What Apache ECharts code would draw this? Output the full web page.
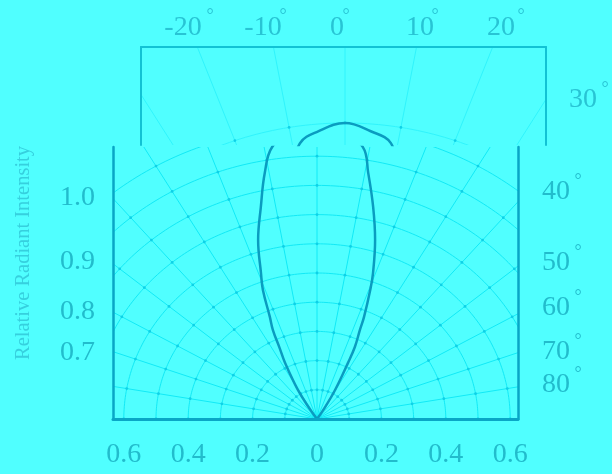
<!DOCTYPE html>
<html>
<head>
<meta charset="utf-8">
<script src="https://cdn.jsdelivr.net/npm/echarts@6/dist/echarts.min.js"></script>
<style>
  html, body { margin:0; padding:0; background:#50ffff; }
  #chart { width:612px; height:474px; }
</style>
</head>
<body>
<div id="chart"></div>
<script>
// ---- data ----
const ringValues = [0.1, 0.2, 0.3, 0.4, 0.5, 0.6, 0.7, 0.8, 0.9, 1.0];
const spokeAngles = [-90, -80, -70, -60, -50, -40, -30, -20, -10, 0, 10, 20, 30, 40, 50, 60, 70, 80, 90];
const lobeAngles = [-35, -33, -30.8, -27.3, -25.5, -24.2, -22.7, -20.8, -19.2, -16.6, -13.5, -10.9, -8.5, -4.9, 0,
                    4.7, 8.7, 10.7, 13.5, 16.4, 19.2, 20.5, 22.7, 23.6, 25.5, 26.6, 29.5, 32, 35];
const lobeIntensity = [0, 0.04, 0.115, 0.216, 0.27, 0.334, 0.38, 0.473, 0.529, 0.640, 0.747, 0.858, 0.942, 0.975, 1.0,
                       0.975, 0.942, 0.857, 0.747, 0.639, 0.529, 0.472, 0.378, 0.333, 0.273, 0.215, 0.114, 0.04, 0];
const xTickValues = [-0.6, -0.4, -0.2, 0, 0.2, 0.4, 0.6];
const intensityLabels = ['1.0', '0.9', '0.8', '0.7'];
const topAngleLabels = ['-20', '-10', '0', '10', '20'];
const sideAngleLabels = ['30', '40', '50', '60', '70', '80'];

// ---- styles / layout ----
const FONT = '"Liberation Serif", "DejaVu Serif", serif';
const C_BG = '#50ffff';
const C_GRID = '#12eaf6';
const C_GRID_UP = '#30f4fc';
const C_DOT = '#10d0e6';
const C_LOBE = '#0a9cc0';
const C_BOX = '#0aa6c6';
const C_BOX_UP = '#12c2d4';
const C_TEXT = '#22bccc';
const C_TEXT_UP = '#28c4d4';
const C_TITLE = '#36d0de';

const rad = d => d * Math.PI / 180;
const lobePoints = lobeAngles.map((a, i) => [lobeIntensity[i] * Math.sin(rad(a)), lobeIntensity[i] * Math.cos(rad(a))]);

function spokeRender(color) {
  return function (params, api) {
    const t = rad(api.value(0));
    const p0 = api.coord([0, 0]);
    const p1 = api.coord([2 * Math.sin(t), 2 * Math.cos(t)]);
    return { type: 'line', shape: { x1: p0[0], y1: p0[1], x2: p1[0], y2: p1[1] },
             style: { stroke: color, lineWidth: 1 } };
  };
}
function ringRender(color) {
  return function (params, api) {
    const r = api.value(0);
    const pts = [];
    for (let a = -90; a <= 90; a += 1) {
      pts.push(api.coord([r * Math.sin(rad(a)), r * Math.cos(rad(a))]));
    }
    const children = [{ type: 'polyline', shape: { points: pts }, style: { stroke: color, fill: null, lineWidth: 1 } }];
    spokeAngles.forEach(a => {
      const p = api.coord([r * Math.sin(rad(a)), r * Math.cos(rad(a))]);
      children.push({ type: 'circle', shape: { cx: p[0], cy: p[1], r: 1.4 }, style: { fill: C_DOT } });
    });
    return { type: 'group', children };
  };
}

const XMIN = -204 / 322, XMAX = 201 / 322;
function hiddenAxisParts() {
  return { axisTick: { show: false }, splitLine: { show: false } };
}

const graphics = [];
function label(text, x, y, size, color, align) {
  graphics.push({ type: 'text', x, y, silent: true,
    style: { text, fontFamily: FONT, fontSize: size, fill: color, align: align || 'center', verticalAlign: 'middle' } });
}
function degLabel(text, x, y, dx, dy, color) {
  label(text, x, y, 28, color);
  label('°', x + dx, y + dy, 18, color);
}
// top angle labels (upper strip)
const topX = [183, 263, 337, 420, 501];
const topDegX = [210, 283, 346, 435, 521];
topAngleLabels.forEach((t, i) => degLabel(t, topX[i], 28, topDegX[i] - topX[i], -12, C_TEXT_UP));
// side angle labels
const sideX = [583, 556, 556, 556, 556, 556];
const sideY = [100, 192, 263, 308, 352, 385];
sideAngleLabels.forEach((t, i) => degLabel(t, sideX[i], sideY[i], 22, -11, i === 0 ? C_TEXT_UP : C_TEXT));
// left intensity labels
const leftY = [198, 262, 312, 353];
intensityLabels.forEach((t, i) => label(t, 95, leftY[i], 28, C_TEXT, 'right'));
// axis title
graphics.push({ type: 'text', x: 24, y: 253, rotation: Math.PI / 2, silent: true,
  style: { text: 'Relative Radiant Intensity', fontFamily: FONT, fontSize: 20.5, fill: C_TITLE,
           align: 'center', verticalAlign: 'middle' } });

const chart = echarts.init(document.getElementById('chart'), null, { renderer: 'canvas' });
chart.setOption({
  backgroundColor: C_BG,
  animation: false,
  grid: [
    { left: 113, top: 147, width: 405, height: 272 },
    { left: 141, top: 47, width: 405, height: 98 }
  ],
  xAxis: [
    Object.assign({ gridIndex: 0, type: 'value', min: XMIN, max: XMAX, z: 10,
      axisLine: { show: true, onZero: false, lineStyle: { color: C_BOX, width: 3 } },
      axisLabel: { customValues: xTickValues, formatter: v => String(Math.abs(v)),
        fontFamily: FONT, fontSize: 28, color: C_TEXT, margin: 22 } }, hiddenAxisParts()),
    Object.assign({ gridIndex: 1, type: 'value', min: XMIN, max: XMAX, position: 'top', z: 10,
      axisLine: { show: true, onZero: false, lineStyle: { color: C_BOX_UP, width: 2 } },
      axisLabel: { show: false } }, hiddenAxisParts())
  ],
  yAxis: [
    Object.assign({ gridIndex: 0, type: 'value', min: 0, max: 272 / 292, z: 10,
      axisLine: { show: true, onZero: false, lineStyle: { color: C_BOX, width: 2.5 } },
      axisLabel: { show: false } }, hiddenAxisParts()),
    Object.assign({ gridIndex: 1, type: 'value', min: 270 / 292, max: 368 / 292, z: 10,
      axisLine: { show: true, onZero: false, lineStyle: { color: C_BOX_UP, width: 2 } },
      axisLabel: { show: false } }, hiddenAxisParts()),
    Object.assign({ gridIndex: 0, type: 'value', min: 0, max: 272 / 292, position: 'right', z: 10,
      axisLine: { show: true, onZero: false, lineStyle: { color: C_BOX, width: 2.5 } },
      axisLabel: { show: false } }, hiddenAxisParts()),
    Object.assign({ gridIndex: 1, type: 'value', min: 270 / 292, max: 368 / 292, position: 'right', z: 10,
      axisLine: { show: true, onZero: false, lineStyle: { color: C_BOX_UP, width: 2 } },
      axisLabel: { show: false } }, hiddenAxisParts())
  ],
  series: [
    { type: 'custom', xAxisIndex: 0, yAxisIndex: 0, clip: true, silent: true,
      data: spokeAngles.map(a => [a, 0]), renderItem: spokeRender(C_GRID) },
    { type: 'custom', xAxisIndex: 0, yAxisIndex: 0, clip: true, silent: true,
      data: ringValues.map(r => [r, 0]), renderItem: ringRender(C_GRID) },
    { type: 'line', xAxisIndex: 0, yAxisIndex: 0, data: lobePoints, symbol: 'none', smooth: 0.4,
      clip: true, silent: true, lineStyle: { color: C_LOBE, width: 2.5 }, z: 5 },
    { type: 'custom', xAxisIndex: 1, yAxisIndex: 1, clip: true, silent: true,
      data: spokeAngles.map(a => [a, 0]), renderItem: spokeRender(C_GRID_UP) },
    { type: 'custom', xAxisIndex: 1, yAxisIndex: 1, clip: true, silent: true,
      data: ringValues.map(r => [r, 0]), renderItem: ringRender(C_GRID_UP) },
    { type: 'line', xAxisIndex: 1, yAxisIndex: 1, data: lobePoints, symbol: 'none', smooth: 0.4,
      clip: true, silent: true, lineStyle: { color: C_LOBE, width: 2.5 }, z: 5 }
  ],
  graphic: graphics
});
</script>
</body>
</html>
